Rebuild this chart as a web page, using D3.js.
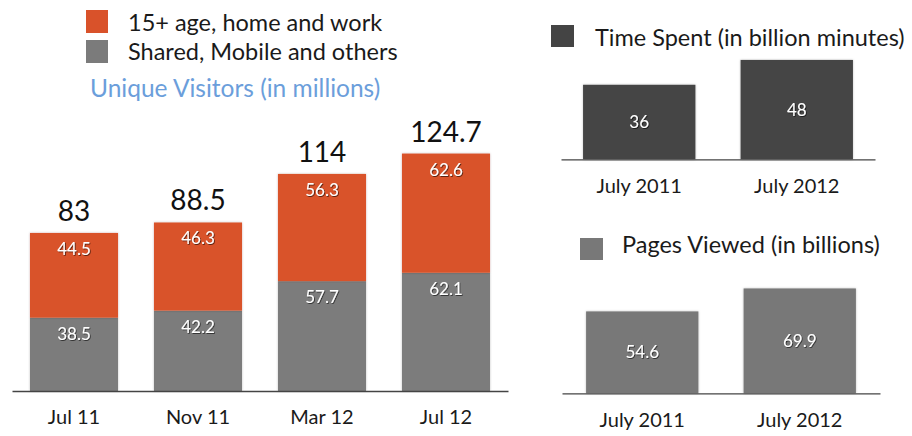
<!DOCTYPE html>
<html>
<head>
<meta charset="utf-8">
<script src="https://cdn.jsdelivr.net/npm/d3@7"></script>
<style>
  html, body { margin: 0; padding: 0; background: #fff; }
  svg { display: block; font-family: Lato, "Open Sans", sans-serif; }
</style>
</head>
<body>
<svg id="chart" width="912" height="436"></svg>
<script>
// Unique visitors (millions), stacked by segment
const months = ["Jul 11", "Nov 11", "Mar 12", "Jul 12"];
const sharedMobile = [38.5, 42.2, 57.7, 62.1];
const homeWork = [44.5, 46.3, 56.3, 62.6];
const visitorTotals = [83, 88.5, 114, 124.7];
const segmentNames = ["15+ age, home and work", "Shared, Mobile and others"];

// Time spent (billion minutes) and pages viewed (billions)
const periods = ["July 2011", "July 2012"];
const timeSpent = [36, 48];
const pagesViewed = [54.6, 69.9];

const ORANGE = "#d9522a", GREY = "#7b7b7b", DARK = "#444444", MID = "#787878";

const svg = d3.select("#chart");
const defs = svg.append("defs");
defs.append("filter").attr("id", "barShadow")
  .attr("x", "-10%").attr("y", "-10%").attr("width", "120%").attr("height", "120%")
  .append("feDropShadow").attr("dx", 0).attr("dy", 0).attr("stdDeviation", 1)
  .attr("flood-color", "#000").attr("flood-opacity", 0.25);
defs.append("filter").attr("id", "textShadow")
  .attr("x", "-20%").attr("y", "-20%").attr("width", "140%").attr("height", "140%")
  .append("feDropShadow").attr("dx", 0.8).attr("dy", 0.8).attr("stdDeviation", 0.7)
  .attr("flood-color", "#000").attr("flood-opacity", 0.7);

function styleAxis(g, labelY, size) {
  g.select(".domain").attr("stroke", "#444").attr("stroke-width", 1.3);
  g.selectAll(".tick line").remove();
  g.selectAll(".tick text")
    .attr("y", labelY).attr("dy", null)
    .attr("fill", "#1a1a1a")
    .style("font-family", "Lato, sans-serif")
    .style("font-size", size + "px");
}

// ---- Left: stacked unique visitors ----
const baseL = 391;
const xL = d3.scaleBand().domain(months).range([12, 508]).paddingInner(0.29).paddingOuter(0.145);
const yL = d3.scaleLinear().domain([0, 130]).range([baseL, baseL - 130 * 1.904]);

const rows = months.map((m, i) => ({ month: m, shared: sharedMobile[i], home: homeWork[i], total: visitorTotals[i] }));
const stack = d3.stack().keys(["shared", "home"])(rows);
const fills = { shared: GREY, home: ORANGE };

const left = svg.append("g");
stack.forEach(layer => {
  left.append("g").selectAll("rect").data(layer).join("rect")
    .attr("x", d => xL(d.data.month))
    .attr("width", xL.bandwidth())
    .attr("y", d => yL(d[1]))
    .attr("height", d => yL(d[0]) - yL(d[1]))
    .attr("fill", fills[layer.key])
    .attr("filter", "url(#barShadow)");
});
stack.forEach(layer => {
  left.append("g").selectAll("text").data(layer).join("text")
    .attr("x", d => xL(d.data.month) + xL.bandwidth() / 2)
    .attr("y", d => yL(d[1]) + 22)
    .attr("text-anchor", "middle")
    .attr("fill", "#fff")
    .attr("filter", "url(#textShadow)")
    .style("font-size", "17px")
    .text(d => d.data[layer.key]);
});
left.append("g").selectAll("text").data(rows).join("text")
  .attr("x", d => xL(d.month) + xL.bandwidth() / 2)
  .attr("y", d => yL(d.total) - 12)
  .attr("text-anchor", "middle")
  .attr("fill", "#111")
  .style("font-size", "28px")
  .text(d => d.total);
left.append("g").attr("transform", `translate(0,${baseL})`)
  .call(d3.axisBottom(xL).tickSize(0).tickSizeOuter(0))
  .call(g => styleAxis(g, 33, 20));

// Legend and title
const legL = svg.append("g");
const legColors = [ORANGE, GREY];
segmentNames.forEach((name, i) => {
  legL.append("rect").attr("x", 86).attr("y", 10 + i * 30).attr("width", 22).attr("height", 23).attr("fill", legColors[i]);
  legL.append("text").attr("x", 128).attr("y", 31 + i * 29).attr("fill", "#1a1a1a")
    .style("font-size", "23.5px").text(name);
});
legL.append("text").attr("x", 90).attr("y", 97).attr("fill", "#6b9edb")
  .style("font-size", "24.5px").text("Unique Visitors (in millions)");

// ---- Right: simple two-bar panels ----
function panel(values, cfg) {
  const g = svg.append("g");
  const x = d3.scaleBand().domain(periods).range(cfg.range).paddingInner(0.287).paddingOuter(cfg.outer);
  const y = d3.scaleLinear().domain([0, cfg.max]).range([cfg.base, cfg.base - cfg.max * cfg.k]);
  const data = periods.map((p, i) => ({ p, v: values[i] }));
  g.selectAll("rect.bar").data(data).join("rect").attr("class", "bar")
    .attr("x", d => x(d.p)).attr("width", x.bandwidth())
    .attr("y", d => y(d.v)).attr("height", d => y(0) - y(d.v))
    .attr("fill", cfg.color).attr("filter", "url(#barShadow)");
  g.selectAll("text.val").data(data).join("text").attr("class", "val")
    .attr("x", d => x(d.p) + x.bandwidth() / 2)
    .attr("y", d => (y(d.v) + y(0)) / 2)
    .attr("dy", "0.36em")
    .attr("text-anchor", "middle").attr("fill", "#fff")
    .attr("filter", "url(#textShadow)")
    .style("font-size", "17px").text(d => d.v);
  g.append("g").attr("transform", `translate(0,${cfg.base})`)
    .call(d3.axisBottom(x).tickSize(0).tickSizeOuter(0))
    .call(a => styleAxis(a, 34, 20));
  g.append("rect").attr("x", cfg.legend[0]).attr("y", cfg.legend[1]).attr("width", 23).attr("height", 22).attr("fill", cfg.color);
  g.append("text").attr("x", cfg.legend[2]).attr("y", cfg.legend[3]).attr("fill", "#1a1a1a")
    .style("font-size", "23.5px").text(cfg.title);
}

panel(timeSpent, {
  range: [561, 875], outer: 0.14, max: 50, k: 2.07, base: 159.3, color: DARK,
  legend: [551, 25, 595, 46], title: "Time Spent (in billion minutes)"
});
panel(pagesViewed, {
  range: [562, 880], outer: 0.153, max: 70, k: 1.5, base: 393.3, color: MID,
  legend: [580, 238, 622, 253], title: "Pages Viewed (in billions)"
});
</script>
</body>
</html>
